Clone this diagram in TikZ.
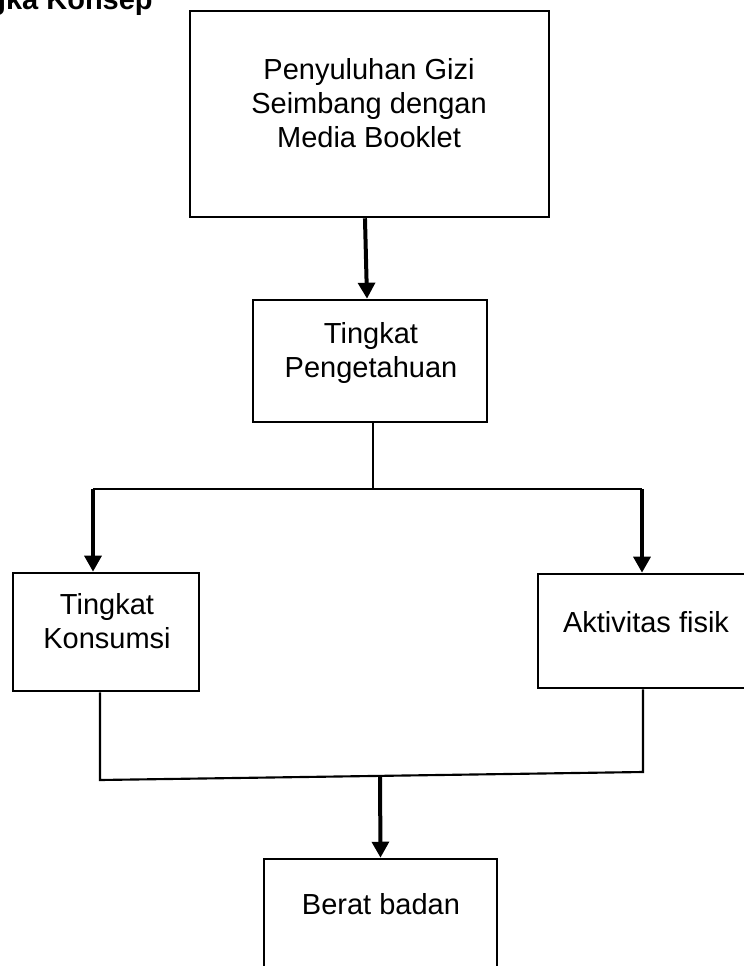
\documentclass[tikz,border=0pt]{standalone}
\usepackage{fontspec}
\setmainfont{Liberation Sans}
\usetikzlibrary{arrows.meta, positioning, calc}

\begin{document}
\begin{tikzpicture}[
  x=0.75pt, y=-0.75pt,
  box/.style={draw, line width=1.9pt, inner sep=0pt},
  txt/.style={anchor=base, align=center, inner sep=0pt,
              font=\fontsize{21.75}{25.5}\selectfont},
  conn/.style={line width=1.6pt},
  arr/.style={-{Triangle[length=12pt,width=12.5pt]}, line width=3pt}
]
\useasboundingbox (0,0) rectangle (743,966);
\node[txt, anchor=base east, font=\bfseries\fontsize{21.75}{25.5}\selectfont] (title) at (153,10) {Kerangka Konsep};

% kotak-kotak
\node[box, minimum width=269.25pt, minimum height=154.5pt] (pgb) at (369.5,114) {};
\node[txt] (pgbtxt) at (369,148) {Penyuluhan Gizi\\Seimbang dengan\\Media Booklet};
\node[box, minimum width=175.5pt, minimum height=91.5pt] (tp) at (370,361) {};
\node[txt] (tptxt) at (371,377) {Tingkat\\Pengetahuan};
\node[box, minimum width=139.5pt, minimum height=88.5pt] (tk) at (106,632) {};
\node[txt] (tktxt) at (107,648) {Tingkat\\Konsumsi};
\node[box, minimum width=155.25pt, minimum height=85.5pt] (af) at (641.5,631) {};
\node[txt] (aftxt) at (646,632) {Aktivitas fisik};
\node[box, minimum width=174.75pt, minimum height=87pt] (bb) at (380.5,917) {};
\node[txt] (bbtxt) at (381,914) {Berat badan};

% titik cabang
\coordinate (split) at (373,489);
\coordinate (jl) at (93,489);
\coordinate (jr) at (642,489);
\coordinate (ml) at (100,780);
\coordinate (mr) at (643,772);
\coordinate (mm) at (380,776);

\draw[arr] ([xshift=-3.4pt]pgb.south) -- ([xshift=-2.25pt]tp.north);
\draw[conn] ([xshift=2.25pt]tp.south) -- (split);
\draw[conn] (jl) -- (jr);
\draw[arr] (jl) -- (jl |- tk.north);
\draw[arr] (jr) -- (jr |- af.north);
\draw[conn] (ml |- tk.south) -- (ml) -- (mr) -- (mr |- af.south);
\draw[arr] (mm) -- (bb.north);
\end{tikzpicture}
\end{document}
